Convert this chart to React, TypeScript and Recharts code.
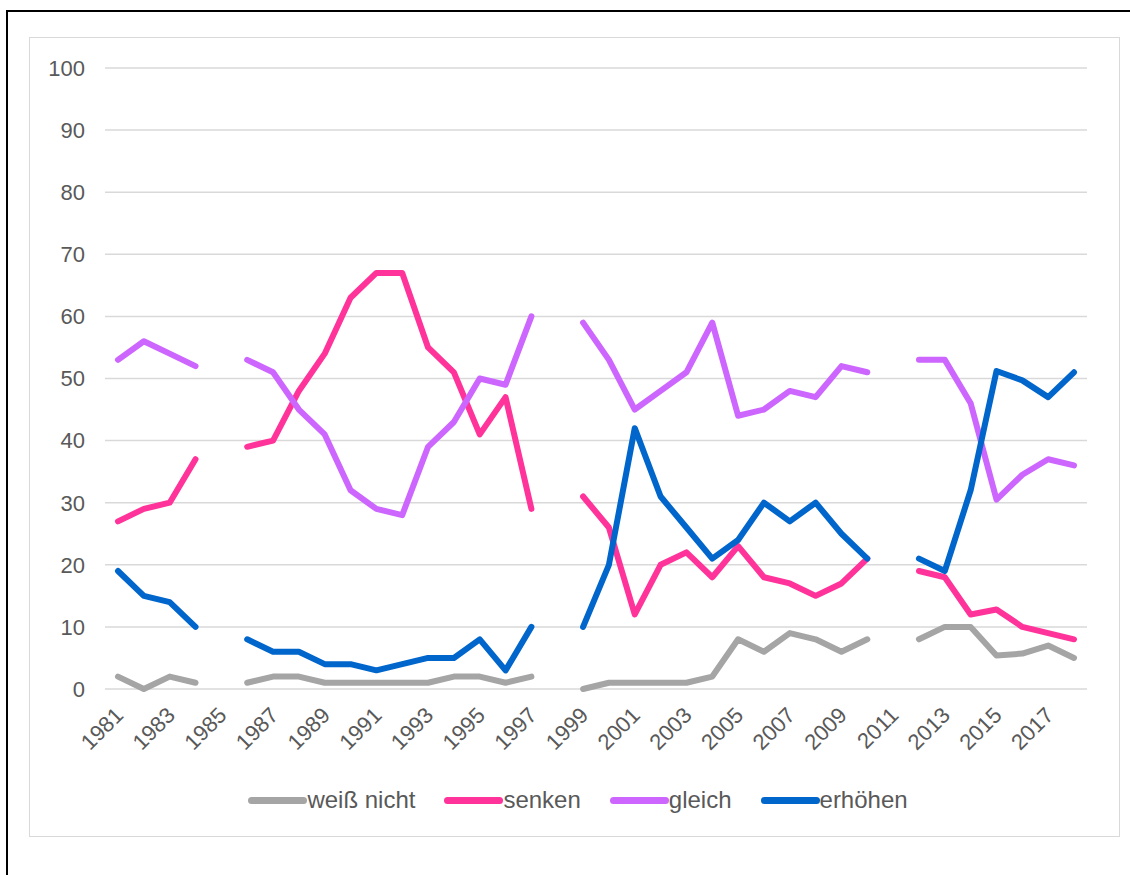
import { LineChart, Line, XAxis, YAxis, CartesianGrid, Legend } from "recharts";

const years = [
  "1981", "1982", "1983", "1984", "1985", "1986", "1987", "1988", "1989", "1990",
  "1991", "1992", "1993", "1994", "1995", "1996", "1997", "1998", "1999", "2000",
  "2001", "2002", "2003", "2004", "2005", "2006", "2007", "2008", "2009", "2010",
  "2011", "2012", "2013", "2014", "2015", "2016", "2017", "2018",
];

const weissNicht = [
  2, 0, 2, 1, null, 1, 2, 2, 1, 1,
  1, 1, 1, 2, 2, 1, 2, null, 0, 1,
  1, 1, 1, 2, 8, 6, 9, 8, 6, 8,
  null, 8, 10, 10, 5.4, 5.7, 7, 5,
];

const senken = [
  27, 29, 30, 37, null, 39, 40, 48, 54, 63,
  67, 67, 55, 51, 41, 47, 29, null, 31, 26,
  12, 20, 22, 18, 23, 18, 17, 15, 17, 21,
  null, 19, 18, 12, 12.8, 10, 9, 8,
];

const gleich = [
  53, 56, 54, 52, null, 53, 51, 45, 41, 32,
  29, 28, 39, 43, 50, 49, 60, null, 59, 53,
  45, 48, 51, 59, 44, 45, 48, 47, 52, 51,
  null, 53, 53, 46, 30.5, 34.5, 37, 36,
];

const erhoehen = [
  19, 15, 14, 10, null, 8, 6, 6, 4, 4,
  3, 4, 5, 5, 8, 3, 10, null, 10, 20,
  42, 31, 26, 21, 24, 30, 27, 30, 25, 21,
  null, 21, 19, 32, 51.2, 49.7, 47, 51,
];

const yTicks = [0, 10, 20, 30, 40, 50, 60, 70, 80, 90, 100];

const series = [
  { key: "weissNicht", name: "weiß nicht", color: "#A5A5A5" },
  { key: "senken", name: "senken", color: "#FF3399" },
  { key: "gleich", name: "gleich", color: "#CC66FF" },
  { key: "erhoehen", name: "erhöhen", color: "#0066CC" },
];

const data = years.map((year, i) => ({
  year,
  weissNicht: weissNicht[i],
  senken: senken[i],
  gleich: gleich[i],
  erhoehen: erhoehen[i],
}));

const FONT = "'Liberation Sans', Arial, sans-serif";
const TEXT = "#595959";

function YearTick(props: any) {
  const { x, y, payload } = props;
  return (
    <g transform={`translate(${x + 1},${y + 14}) rotate(-45)`}>
      <text textAnchor="end" dy={8} fontSize={22} fill={TEXT} fontFamily={FONT}>
        {payload.value}
      </text>
    </g>
  );
}

function LegendBox() {
  return (
    <div style={{ display: "flex", justifyContent: "center", alignItems: "center", gap: 29, paddingLeft: 24, paddingTop: 3, fontFamily: FONT, fontSize: 24, color: TEXT }}>
      {series.map((s) => (
        <div key={s.key} style={{ display: "flex", alignItems: "center" }}>
          <span style={{ display: "inline-block", width: 59, height: 7, borderRadius: 4, background: s.color }} />
          <span>{s.name}</span>
        </div>
      ))}
    </div>
  );
}

export default function App() {
  return (
    <div style={{ position: "absolute", left: 0, top: 0, width: 1130, height: 875, background: "#fff", overflow: "hidden" }}>
      <div style={{ position: "absolute", left: 6, top: 10, width: 1160, height: 900, border: "2px solid #000" }} />
      <div style={{ position: "absolute", left: 29, top: 37, width: 1091, height: 800, border: "1.5px solid #D9D9D9", boxSizing: "border-box" }} />
      <div style={{ position: "absolute", left: 0, top: 0 }}>
        <LineChart width={1130} height={875} data={data} margin={{ top: 68, right: 43, left: 45, bottom: 62 }}>
          <CartesianGrid vertical={false} stroke="#D9D9D9" strokeWidth={1.5} />
          <XAxis
            dataKey="year"
            interval={1}
            axisLine={false}
            tickLine={false}
            height={94}
            padding={{ left: 13, right: 13 }}
            tick={<YearTick />}
          />
          <YAxis
            domain={[0, 100]}
            ticks={yTicks}
            axisLine={false}
            tickLine={false}
            width={60}
            tickSize={0}
            tickMargin={20}
            tick={{ fontSize: 22, fill: TEXT, fontFamily: FONT }}
          />
          <Legend verticalAlign="bottom" height={30} content={<LegendBox />} />
          {series.map((s) => (
            <Line
              key={s.key}
              type="linear"
              dataKey={s.key}
              name={s.name}
              stroke={s.color}
              strokeWidth={6}
              strokeLinecap="round"
              strokeLinejoin="round"
              dot={false}
              activeDot={false}
              connectNulls={false}
              isAnimationActive={false}
            />
          ))}
        </LineChart>
      </div>
    </div>
  );
}
